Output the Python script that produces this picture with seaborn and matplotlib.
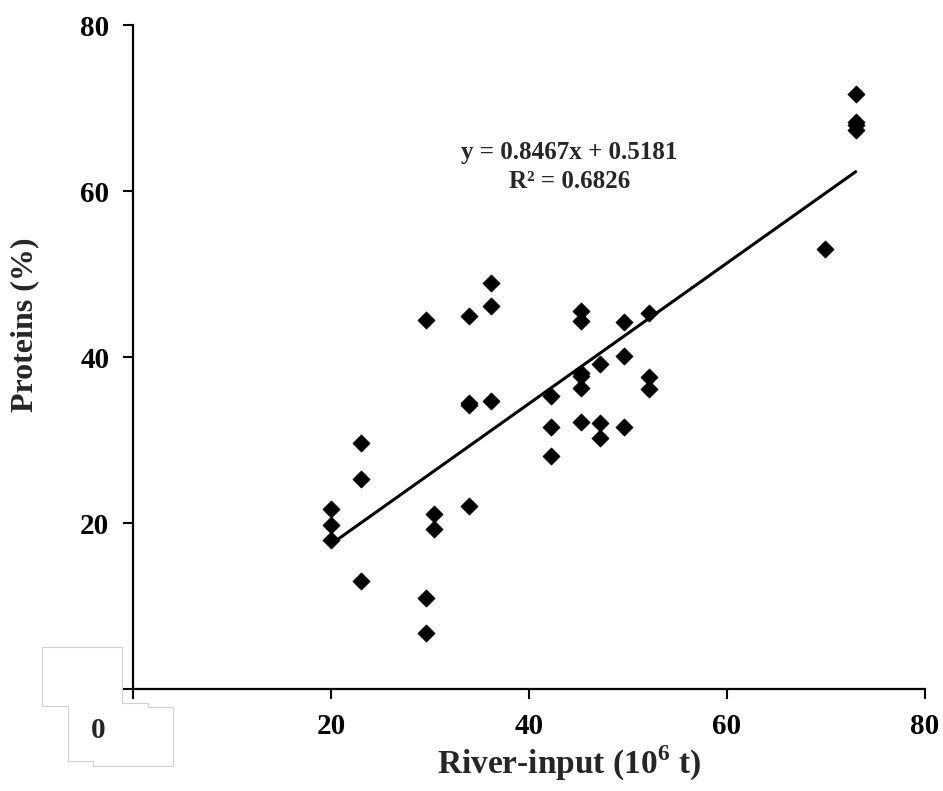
import numpy as np
import pandas as pd
import matplotlib
matplotlib.use("Agg")
import matplotlib.pyplot as plt
from matplotlib.lines import Line2D
import seaborn as sns

# === Data ===
river_input = [20.0, 20.0, 20.0,
               23.0, 23.0, 23.0,
               29.6, 29.6, 29.6,
               30.4, 30.4,
               33.9, 33.9, 33.9, 33.9,
               36.2, 36.2, 36.2,
               42.2, 42.2, 42.2,
               45.3, 45.3, 45.3, 45.3, 45.3, 45.3,
               47.2, 47.2, 47.2,
               49.6, 49.6, 49.6,
               52.1, 52.1, 52.1,
               69.9,
               73.0, 73.0, 73.0, 73.0]
proteins = [21.7, 19.8, 17.9,
            29.6, 25.3, 13.0,
            44.5, 11.0, 6.8,
            21.1, 19.3,
            44.9, 34.4, 34.2, 22.1,
            48.9, 46.1, 34.7,
            35.3, 31.6, 28.1,
            45.6, 44.3, 38.1, 37.7, 36.3, 32.2,
            39.1, 32.0, 30.3,
            44.2, 40.1, 31.6,
            45.3, 37.6, 36.1,
            53.0,
            71.7, 68.3, 67.9, 67.3]
slope = 0.8467
intercept = 0.5181
r_squared = 0.6826
ticks = [0, 20, 40, 60, 80]
tick_labels = ['', '20', '40', '60', '80']

df = pd.DataFrame({'River-input': river_input, 'Proteins': proteins})
fit_x = np.array([df['River-input'].min(), df['River-input'].max()])
fit = pd.DataFrame({'x': fit_x, 'y': slope * fit_x + intercept})

# === Style ===
sns.set_style("ticks")
plt.rcParams['font.family'] = ['Liberation Serif', 'DejaVu Serif']
plt.rcParams['font.weight'] = 'bold'
plt.rcParams['mathtext.fontset'] = 'custom'
plt.rcParams['mathtext.rm'] = 'Liberation Serif:bold'
plt.rcParams['mathtext.bf'] = 'Liberation Serif:bold'

fig = plt.figure(figsize=(9.43, 7.91), dpi=100)
ax = fig.add_axes([133 / 943, 1 - 689 / 791, 792 / 943, 664 / 791])

# === Plot ===
sns.scatterplot(data=df, x='River-input', y='Proteins', marker='D', s=76,
                color='black', edgecolor='black', linewidth=0.5, ax=ax, zorder=3)
sns.lineplot(data=fit, x='x', y='y', color='black', linewidth=2.2, ax=ax, zorder=2)

ax.text(44.1, 62.9, f"y = {slope}x + {intercept}\nR\u00b2 = {r_squared}",
        ha='center', va='center', fontsize=18, fontweight='bold',
        linespacing=1.3)

ax.set_xlim(0, 80)
ax.set_ylim(0, 80)
ax.set_xticks(ticks)
ax.set_xticklabels(tick_labels)
ax.set_yticks(ticks)
ax.set_yticklabels(tick_labels)
ax.tick_params(direction='out', length=7, width=1.5, labelsize=21, pad=10,
               colors='black')
for lab in ax.get_xticklabels() + ax.get_yticklabels():
    lab.set_fontweight('bold')

sns.despine(ax=ax)
for side in ['left', 'bottom']:
    ax.spines[side].set_linewidth(1.6)
    ax.spines[side].set_color('black')

ax.set_xlabel(r"River-input (10$^{\mathrm{6}}$ t)", fontsize=24, fontweight='bold')
ax.set_ylabel("Proteins (%)", fontsize=23, fontweight='bold')
ax.xaxis.set_label_coords(0.55, -0.082)
ax.yaxis.set_label_coords(-0.118, 0.548)

# stray origin label sitting in a pasted box
box_px = [(41.7, 647.3), (121.7, 647.3), (121.7, 702.7), (148.3, 702.7),
          (148.3, 707.3), (173.3, 707.3), (173.3, 766.0), (93.3, 766.0),
          (93.3, 761.0), (68.3, 761.0), (68.3, 706.0), (41.7, 706.0),
          (41.7, 647.3)]
bx = [p[0] / 943 for p in box_px]
by = [1 - p[1] / 791 for p in box_px]
fig.add_artist(Line2D(bx, by, transform=fig.transFigure, color='#d0d0d0',
                      linewidth=0.8))
fig.text(98 / 943, 1 - 731 / 791, "0", ha='center', va='center',
         fontsize=21, fontweight='bold')

fig.savefig('out.png', dpi=100)
